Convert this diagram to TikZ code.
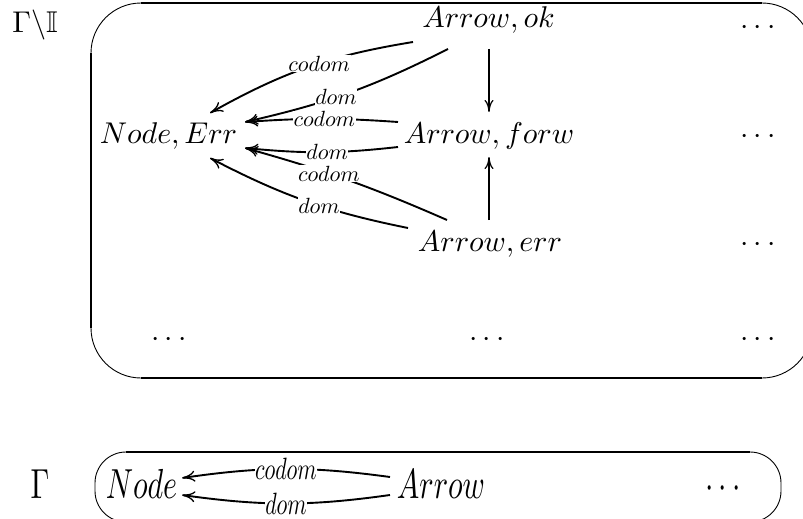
\documentclass[tikz,border=0pt]{standalone}
\usepackage{amssymb}
\usepackage{graphicx}
\usetikzlibrary{arrows.meta,calc}

% objects and labels are set at 10pt and enlarged
\newcommand\objm[1]{\scalebox{3}{$#1$}}
\newcommand\lblm[1]{\scalebox{2.2}{$#1$}}
% the lower row is stretched vertically
\newcommand\objt[1]{\scalebox{3}[4.2]{$#1$}}
\newcommand\lblt[1]{\scalebox{2.2}[3.08]{$#1$}}

\begin{document}
\begin{tikzpicture}[x=1pt,y=-1pt,
  obj/.style={inner sep=0pt, anchor=base},
  lbl/.style={fill=white, inner sep=0.6pt},
  map/.style={line width=1.9pt, -{Computer Modern Rightarrow[length=13pt,width=11pt,line width=1.3pt]}},
  vmap/.style={line width=1.3pt, -{Computer Modern Rightarrow[length=12pt,width=9pt,line width=1.2pt]}},
  frameline/.style={line width=2pt},
  framearc/.style={line width=0.9pt}
]
\useasboundingbox (0,0) rectangle (803,519);

% ---------- upper frame (right side runs past the edge) ----------
\draw[framearc, rounded corners=50pt] (91,378) -- (91,3) -- (812,3) -- (812,378) -- cycle;
\draw[frameline] (141,3) -- (762,3);
\draw[frameline] (141,378) -- (762,378);
\draw[frameline] (91,53) -- (91,328);

% ---------- lower frame ----------
\draw[framearc, rounded corners=31pt] (95,452) -- (781,452) -- (781,522) -- (95,522) -- cycle;
\draw[frameline] (126,452) -- (750,452);

% ---------- upper objects ----------
\node[obj] (gi)  at (35,33)     {\objm{\Gamma\backslash\mathbb{I}}};
\node[obj] (aok) at (488.5,28)  {\objm{Arrow, ok}};
\node[obj] (afw) at (489,143)   {\objm{Arrow, forw}};
\node[obj] (aer) at (490,251)   {\objm{Arrow, err}};
\node[obj] (ner) at (168.5,143) {\objm{Node, Err}};
\node[obj] (d1) at (758,35)  {\objm{\cdots}};
\node[obj] (d2) at (758,143) {\objm{\cdots}};
\node[obj] (d3) at (758,251) {\objm{\cdots}};
\node[obj] (d4) at (169,346) {\objm{\cdots}};
\node[obj] (d5) at (487,346) {\objm{\cdots}};
\node[obj] (d6) at (758,346) {\objm{\cdots}};

% ---------- upper maps ----------
\draw[map] ([shift={(-75.5,14)}]aok.base) to[bend right=10]
  node[lbl, pos=0.44] {\lblm{codom}} ([shift={(41.5,-30)}]ner.base);
\draw[map] ([shift={(-40.5,21)}]aok.base) to[bend left=7]
  node[lbl, pos=0.57] {\lblm{dom}} ([shift={(76.5,-21)}]ner.base);
\draw[map] ([shift={(-91,-21)}]afw.base) to[bend right=4]
  node[lbl, pos=0.48] {\lblm{codom}} ([shift={(76.5,-21)}]ner.base);
\draw[map] ([shift={(-91,4)}]afw.base) to[bend left=6]
  node[lbl, pos=0.46] {\lblm{dom}} ([shift={(76.5,5)}]ner.base);
\draw[map] ([shift={(-43,-31)}]aer.base) to[bend right=4]
  node[lbl, pos=0.6] {\lblm{codom}} ([shift={(76.5,5)}]ner.base);
\draw[map] ([shift={(-82,-23)}]aer.base) to[bend left=8]
  node[lbl, pos=0.43] {\lblm{dom}} ([shift={(41.5,15)}]ner.base);

\draw[vmap] ([shift={(0.5,21)}]aok.base) -- ([shift={(0,-31)}]afw.base);
\draw[vmap] ([shift={(-1,-31)}]aer.base) -- ([shift={(0,14)}]afw.base);

% ---------- lower objects ----------
\node[obj] (g)  at (40,498)    {\objt{\Gamma}};
\node[obj] (nd) at (141.5,498) {\objt{Node}};
\node[obj] (ar) at (441,498)   {\objt{Arrow}};
\node[obj] (bd) at (723,498)   {\objt{\cdots}};

\draw[map] ([shift={(-51,-21)}]ar.base) to[bend right=8]
  node[lbl, pos=0.5] {\lblt{codom}} ([shift={(40.5,-20)}]nd.base);
\draw[map] ([shift={(-51,-3)}]ar.base) to[bend left=8]
  node[lbl, pos=0.5] {\lblt{dom}} ([shift={(40.5,-3)}]nd.base);
\end{tikzpicture}
\end{document}
